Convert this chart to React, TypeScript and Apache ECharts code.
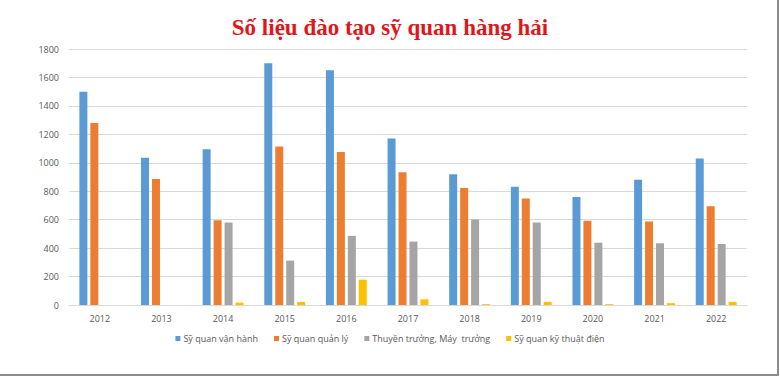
import React, { useEffect, useRef } from "react";
import * as echarts from "echarts";

const years = ["2012", "2013", "2014", "2015", "2016", "2017", "2018", "2019", "2020", "2021", "2022"];
const seriesNames = ["Sỹ quan vận hành", "Sỹ quan quản lý", "Thuyền trưởng, Máy  trưởng", "Sỹ quan kỹ thuật điện"];
const vanHanh = [1500, 1035, 1095, 1700, 1650, 1170, 920, 832, 760, 880, 1030];
const quanLy = [1280, 886, 596, 1115, 1075, 934, 822, 748, 592, 587, 695];
const thuyenTruong = [null, null, 580, 312, 486, 446, 602, 580, 438, 434, 429];
const kyThuatDien = [null, null, 17, 22, 178, 40, 6, 22, 6, 13, 22];
const yTicks = { min: 0, max: 1800, interval: 200 };

const colors = ["#5B9BD5", "#ED7D31", "#A5A5A5", "#FFC000"];

export default function App() {
  const ref = useRef<HTMLDivElement>(null);
  useEffect(() => {
    if (!ref.current) return;
    const chart = echarts.init(ref.current, undefined, { renderer: "svg" });
    const data = [vanHanh, quanLy, thuyenTruong, kyThuatDien];
    chart.setOption({
      animation: false,
      backgroundColor: "#ffffff",
      title: {
        text: "Số liệu đào tạo sỹ quan hàng hải",
        left: "center",
        top: 11,
        textStyle: {
          fontFamily: "Liberation Serif",
          fontWeight: "bold",
          fontSize: 23,
          color: "#E0161B",
        },
      },
      legend: {
        top: 329,
        left: "center",
        itemWidth: 5,
        itemHeight: 5,
        itemGap: 16,
        icon: "rect",
        textStyle: { fontFamily: "Open Sans", fontSize: 9, color: "#595959", padding: [0, 0, 0, -2] },
        data: seriesNames,
      },
      grid: { left: 69, right: 33, top: 49, bottom: 71, containLabel: false },
      xAxis: {
        type: "category",
        data: years,
        axisLine: { lineStyle: { color: "#D9D9D9" } },
        axisTick: { show: false },
        axisLabel: { fontFamily: "Open Sans", fontSize: 9, color: "#595959", margin: 9 },
      },
      yAxis: {
        type: "value",
        min: yTicks.min,
        max: yTicks.max,
        interval: yTicks.interval,
        axisLine: { show: false },
        axisTick: { show: false },
        splitLine: { lineStyle: { color: "#D9D9D9" } },
        axisLabel: {
          fontFamily: "Open Sans",
          fontSize: 9,
          color: "#595959",
          margin: 10,
          formatter: (v: number) => String(v),
        },
      },
      series: seriesNames.map((name, i) => ({
        name,
        type: "bar",
        data: data[i],
        barWidth: 8,
        barGap: "37%",
        itemStyle: { color: colors[i] },
      })),
      graphic: [
        { type: "line", shape: { x1: 778, y1: 0, x2: 778, y2: 375 }, style: { stroke: "#8C8C8C", lineWidth: 2 } },
        { type: "line", shape: { x1: 0, y1: 375, x2: 779, y2: 375 }, style: { stroke: "#8C8C8C", lineWidth: 2 } },
      ],
    });
    return () => chart.dispose();
  }, []);
  return <div ref={ref} style={{ position: "fixed", left: 0, top: 0, width: 780, height: 376 }} />;
}
